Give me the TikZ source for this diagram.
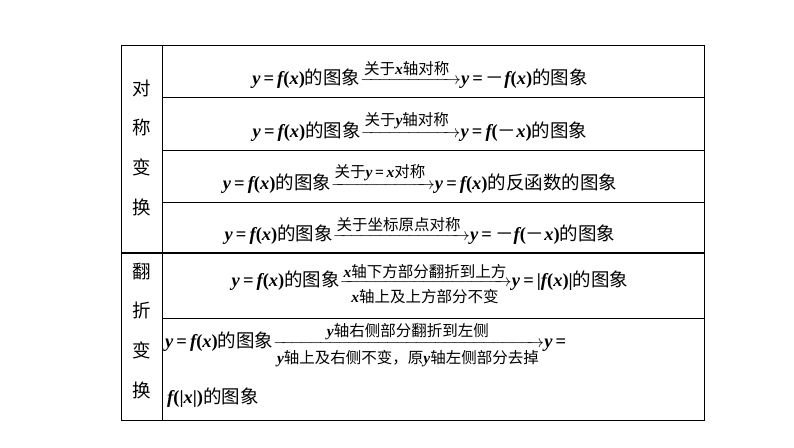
\documentclass[tikz,border=0pt]{standalone}
\usepackage{amsmath}
\usepackage{fontspec}
\setmainfont{Noto Sans CJK SC}
\newfontfamily\latser{Liberation Serif}
\newcommand{\vv}[1]{{\latser\bfseries\itshape #1}}
\newcommand{\pp}[1]{{\latser\bfseries #1}}
\newcommand{\eqq}{\pp{\,=\,}}
\newcommand{\mn}{{\rmfamily －}}
\newcommand{\lab}[1]{\text{\fontsize{15.5}{17}\selectfont #1}}
\begin{document}
\begin{tikzpicture}[x=1pt,y=-1pt,
  cell/.style={inner sep=0pt,font=\fontsize{18.5}{21}\selectfont},
  tline/.style={line width=0.9pt}]
\useasboundingbox (0,0) rectangle (794,447);
\draw[tline] (121,45) rectangle (704,420);
\draw[tline] (162,45) -- (162,420);
\foreach \yy in {97,150,202,318} \draw[tline] (162,\yy) -- (704,\yy);
\draw[line width=1.2pt] (121,253) -- (704,253);
\foreach \c/\yy in {对/88,称/127,变/167,换/207,翻/272,折/310,变/350,换/390}
  \node[cell] (L\yy) at (142,\yy) {\c};
\node[cell] (r1) at (420,74) {\vv{y}\eqq\vv{f}\pp{(}\vv{x}\pp{)}的图象$\xrightarrow{\lab{关于\vv{x}轴对称}\hspace{6pt}}$\vv{y}\eqq\mn\vv{f}\pp{(}\vv{x}\pp{)}的图象};
\node[cell] (r2) at (420,126) {\vv{y}\eqq\vv{f}\pp{(}\vv{x}\pp{)}的图象$\xrightarrow{\lab{关于\vv{y}轴对称}\hspace{6pt}}$\vv{y}\eqq\vv{f}\pp{(}\mn\vv{x}\pp{)}的图象};
\node[cell] (r3) at (420,178) {\vv{y}\eqq\vv{f}\pp{(}\vv{x}\pp{)}的图象$\xrightarrow{\lab{关于\vv{y}\eqq\vv{x}对称}\hspace{4pt}}$\vv{y}\eqq\vv{f}\pp{(}\vv{x}\pp{)}的反函数的图象};
\node[cell] (r4) at (420,230) {\vv{y}\eqq\vv{f}\pp{(}\vv{x}\pp{)}的图象$\xrightarrow{\lab{关于坐标原点对称}\hspace{4pt}}$\vv{y}\eqq\mn\vv{f}\pp{(}\mn\vv{x}\pp{)}的图象};
\node[cell] (r5) at (430,284) {\vv{y}\eqq\vv{f}\pp{(}\vv{x}\pp{)}的图象$\xrightarrow[\lab{\vv{x}轴上及上方部分不变}]{\lab{\vv{x}轴下方部分翻折到上方}}$\vv{y}\eqq\pp{|}\vv{f}\pp{(}\vv{x}\pp{)|}的图象};
\node[cell,anchor=west] (r6) at (165,345) {\vv{y}\eqq\vv{f}\pp{(}\vv{x}\pp{)}的图象$\xrightarrow[\lab{\vv{y}轴上及右侧不变，原\vv{y}轴左侧部分去掉}]{\lab{\vv{y}轴右侧部分翻折到左侧}}$\vv{y}\eqq};
\node[cell,anchor=west] (r7) at (167,398) {\vv{f}\pp{(|}\vv{x}\pp{|)}的图象};
\end{tikzpicture}
\end{document}
